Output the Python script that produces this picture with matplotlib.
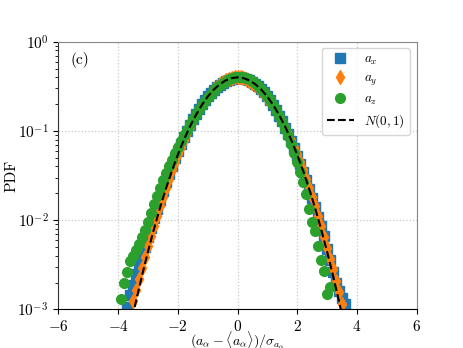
import matplotlib
matplotlib.use("Agg")
import matplotlib.pyplot as plt
import numpy as np

plt.rcParams["font.family"] = "serif"
plt.rcParams["font.serif"] = ["cmr10"]
plt.rcParams["mathtext.fontset"] = "cm"
plt.rcParams["axes.formatter.use_mathtext"] = True
plt.rcParams["font.size"] = 11

# a_x : x grid -3.7 .. 3.6, step 0.1
x_ax = np.round(np.arange(-3.7, 3.65, 0.1), 2)
pdf_ax = [1.05e-3, 1.45e-3, 1.9e-3, 2.5e-3, 3.1e-3, 4.1e-3, 5.0e-3, 6.4e-3, 8.2e-3, 1.05e-2,
          1.35e-2, 1.7e-2, 2.1e-2, 2.65e-2, 3.3e-2, 4.05e-2, 4.95e-2, 6.0e-2, 7.2e-2, 8.6e-2,
          0.101, 0.118, 0.136, 0.156, 0.177, 0.199, 0.221, 0.244, 0.267, 0.289,
          0.310, 0.330, 0.348, 0.363, 0.376, 0.386, 0.393, 0.396, 0.396, 0.392,
          0.384, 0.372, 0.357, 0.339, 0.318, 0.295, 0.271, 0.246, 0.221, 0.196,
          0.172, 0.149, 0.128, 0.109, 0.092, 0.077, 0.064, 0.053, 0.043, 0.035,
          0.028, 0.0225, 0.0178, 0.0140, 0.0109, 0.0085, 0.0066, 4.8e-3, 3.6e-3, 2.6e-3,
          2.0e-3, 1.6e-3, 1.35e-3, 1.15e-3]

# a_y : x grid -3.6 .. 3.5
x_ay = np.round(np.arange(-3.6, 3.55, 0.1), 2)
pdf_ay = [8.5e-4, 1.25e-3, 1.65e-3, 2.2e-3, 2.9e-3, 3.9e-3, 5.1e-3, 6.7e-3, 8.7e-3, 1.12e-2,
          1.44e-2, 1.83e-2, 2.32e-2, 2.9e-2, 3.62e-2, 4.47e-2, 5.47e-2, 6.6e-2, 7.95e-2, 9.45e-2,
          0.111, 0.130, 0.150, 0.172, 0.195, 0.219, 0.243, 0.268, 0.292, 0.315,
          0.336, 0.355, 0.371, 0.384, 0.394, 0.400, 0.401, 0.398, 0.391, 0.380,
          0.366, 0.349, 0.329, 0.308, 0.285, 0.261, 0.237, 0.214, 0.191, 0.169,
          0.148, 0.129, 0.111, 0.0945, 0.0798, 0.0665, 0.0550, 0.0450, 0.0365, 0.0292,
          0.0232, 0.0183, 0.0143, 0.0111, 0.0085, 0.0065, 0.0049, 0.0037, 0.0028, 0.0021,
          0.00155, 0.00115]

# a_z : x grid -3.9 .. 3.1
x_az = np.round(np.arange(-3.9, 3.15, 0.1), 2)
pdf_az = [1.3e-3, 2.0e-3, 2.6e-3, 3.5e-3, 4.0e-3, 4.6e-3, 5.4e-3, 6.4e-3, 7.8e-3, 9.5e-3,
          1.2e-2, 1.5e-2, 1.85e-2, 2.3e-2, 2.8e-2, 3.35e-2, 4.0e-2, 4.75e-2, 5.6e-2, 6.6e-2,
          7.7e-2, 8.9e-2, 0.103, 0.119, 0.136, 0.155, 0.175, 0.196, 0.218, 0.240,
          0.263, 0.286, 0.308, 0.329, 0.349, 0.366, 0.381, 0.393, 0.398, 0.402,
          0.403, 0.399, 0.391, 0.379, 0.363, 0.344, 0.322, 0.298, 0.273, 0.247,
          0.222, 0.196, 0.171, 0.147, 0.125, 0.105, 0.087, 0.071, 0.057, 0.045,
          0.035, 0.027, 0.0195, 0.0135, 0.0095, 0.0075, 0.0052, 0.0036, 0.0027, 0.0015,
          0.0018]

# N(0,1) reference curve, tabulated
x_n = [-3.6, -3.4, -3.2, -3.0, -2.8, -2.6, -2.4, -2.2, -2.0, -1.8, -1.6, -1.4, -1.2, -1.0,
       -0.8, -0.6, -0.4, -0.2, 0.0, 0.2, 0.4, 0.6, 0.8, 1.0, 1.2, 1.4, 1.6, 1.8, 2.0,
       2.2, 2.4, 2.6, 2.8, 3.0, 3.2, 3.4, 3.6]
pdf_n = [0.00061, 0.00123, 0.00238, 0.00443, 0.00792, 0.0136, 0.0224, 0.0355, 0.0540,
         0.0790, 0.1109, 0.1497, 0.1942, 0.2420, 0.2897, 0.3332, 0.3683, 0.3910, 0.3989,
         0.3910, 0.3683, 0.3332, 0.2897, 0.2420, 0.1942, 0.1497, 0.1109, 0.0790, 0.0540,
         0.0355, 0.0224, 0.0136, 0.00792, 0.00443, 0.00238, 0.00123, 0.00061]

fig = plt.figure(figsize=(4.63, 3.48), dpi=100)
ax = fig.add_axes([0.126, 0.111, 0.774, 0.769])

ax.plot(x_ax, pdf_ax, "s", color="tab:blue", ms=7, label="$a_x$")
ax.plot(x_ay, pdf_ay, "d", color="tab:orange", ms=7, label="$a_y$")
ax.plot(x_az, pdf_az, "o", color="tab:green", ms=7, label="$a_z$")
ax.plot(x_n, pdf_n, "k--", lw=1.5, label="$N(0,1)$")

ax.set_yscale("log")
ax.set_xlim(-6, 6)
ax.set_ylim(1e-3, 1)
ax.set_xticks([-6, -4, -2, 0, 2, 4, 6])
ax.grid(True, which="major", ls=":", color="#c8c8c8", lw=0.9)
ax.set_axisbelow(True)

ax.spines["left"].set_color("#333333")
ax.spines["bottom"].set_color("black")
ax.spines["top"].set_color("#888888")
ax.spines["right"].set_color("#888888")
ax.tick_params(which="both", direction="out", top=False, right=False)

ax.set_xlabel(r"$(a_\alpha-\langle a_\alpha\rangle)/\sigma_{a_\alpha}$", fontsize=10)
ax.xaxis.set_label_coords(0.5, -0.074)
ax.set_ylabel("PDF", labelpad=-1)
ax.text(0.035, 0.93, "(c)", transform=ax.transAxes, va="center", ha="left")

ax.legend(loc="upper right", fontsize=9.5, labelspacing=0.4, fancybox=True)

fig.savefig("out.png", dpi=100)
